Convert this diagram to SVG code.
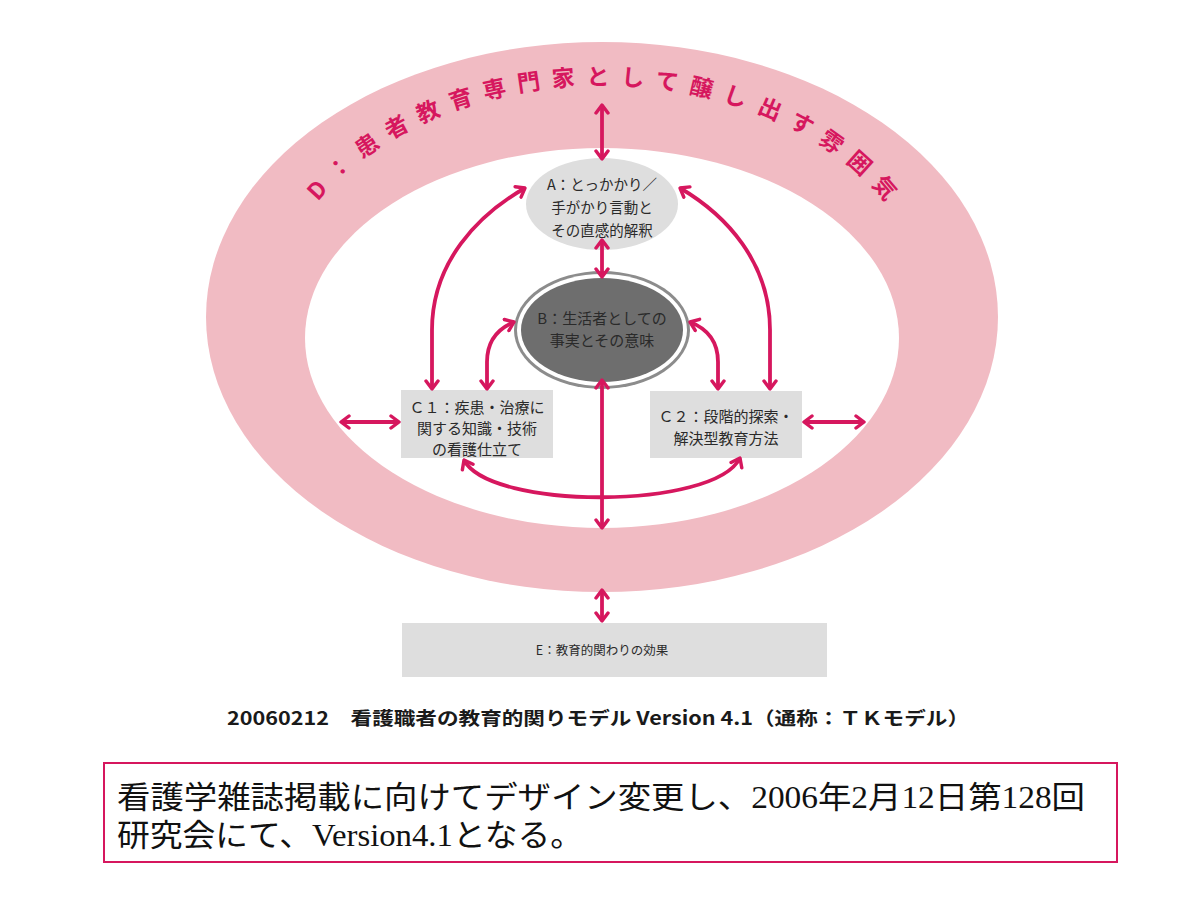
<svg xmlns="http://www.w3.org/2000/svg" width="1200" height="900" viewBox="0 0 1200 900">
<style>
.conn{fill:none;stroke:#d6175e;stroke-width:3.8;marker-start:url(#ah);marker-end:url(#ah)}
.node{fill:#dedede}
.lbl{font-family:"Noto Sans CJK JP","Noto Sans",sans-serif;fill:#2a2a2a;text-anchor:middle}
.ring{font-family:"Noto Sans CJK JP","Noto Sans",sans-serif;font-weight:bold;fill:#d6175e;font-size:23px;letter-spacing:12px}
</style>
<defs>
<marker id="ah" viewBox="0 0 12 16" refX="10" refY="8" markerWidth="12" markerHeight="16" markerUnits="userSpaceOnUse" orient="auto-start-reverse">
<path d="M2,2 L10,8 L2,14" fill="none" stroke="#d6175e" stroke-width="3.4" stroke-linecap="round" stroke-linejoin="round"/>
</marker>
<path id="arc" d="M267,317 A335,240 0 0 1 937,317"/>
</defs>
<rect width="1200" height="900" fill="#ffffff"/>

<g id="D">
<ellipse cx="602" cy="317" rx="396" ry="275" fill="#f1bbc3"/>
<ellipse cx="602" cy="338" rx="297" ry="190" fill="#ffffff"/>
<text class="ring" dy="8"><textPath href="#arc" startOffset="131">D：患者教育専門</textPath></text>
<text class="ring" dy="8"><textPath href="#arc" startOffset="404">家として醸し</textPath></text>
<text class="ring" dy="8"><textPath href="#arc" startOffset="615">出す雰囲気</textPath></text>
</g>

<g id="A">
<ellipse cx="602" cy="204" rx="76" ry="46" fill="#dedede"/>
<text class="lbl" font-size="14.5" x="602" y="190">A：とっかかり／</text>
<text class="lbl" font-size="14.5" x="602" y="213">手がかり言動と</text>
<text class="lbl" font-size="14.5" x="602" y="236">その直感的解釈</text>
</g>

<g id="B">
<ellipse cx="602" cy="330" rx="88" ry="59" fill="#8c8c8c"/>
<ellipse cx="602" cy="330" rx="85" ry="56" fill="#ffffff"/>
<ellipse cx="602" cy="330" rx="81" ry="52" fill="#6e6e6e"/>
<text class="lbl" font-size="15" x="602" y="324" fill="#1a1a1a">B：生活者としての</text>
<text class="lbl" font-size="15" x="602" y="346" fill="#1a1a1a">事実とその意味</text>
</g>

<g id="C1">
<rect class="node" x="401" y="390" width="152" height="68"/>
<text class="lbl" font-size="15" x="477" y="413">Ｃ１：疾患・治療に</text>
<text class="lbl" font-size="15" x="477" y="434">関する知識・技術</text>
<text class="lbl" font-size="15" x="477" y="455">の看護仕立て</text>
</g>

<g id="C2">
<rect class="node" x="650" y="391" width="152" height="67"/>
<text class="lbl" font-size="15" x="726" y="422">Ｃ２：段階的探索・</text>
<text class="lbl" font-size="15" x="726" y="444">解決型教育方法</text>
</g>

<g id="E">
<rect class="node" x="402" y="623" width="425" height="54"/>
<text class="lbl" font-size="12.5" x="602" y="655">E：教育的関わりの効果</text>
</g>

<g id="connectors">
<path class="conn" d="M602,105 L602,159"/>
<path class="conn" d="M602,240 L602,277"/>
<path class="conn" d="M432,389 L432,330 C432,262 478,215 525,188"/>
<path class="conn" d="M770,389 L770,330 C770,262 726,215 680,188"/>
<path class="conn" d="M487,389 L487,362 C487,342 497,329 514,322"/>
<path class="conn" d="M718,389 L718,362 C718,342 708,329 690,322"/>
<path class="conn" d="M602,380 L602,528"/>
<path class="conn" d="M464,460 C490,510 714,510 740,458"/>
<path class="conn" d="M341,422 L399,422"/>
<path class="conn" d="M804,422 L864,422"/>
<path class="conn" d="M602,590 L602,621"/>
</g>

<g id="caption">
<text x="598" y="725" font-family="'Noto Sans CJK JP','DejaVu Sans',sans-serif" font-weight="bold" font-size="18.5" fill="#1a1a1a" text-anchor="middle" textLength="742" lengthAdjust="spacingAndGlyphs">20060212　看護職者の教育的関りモデル Version 4.1（通称：ＴＫモデル）</text>
</g>

<g id="note">
<rect x="104" y="763" width="1013" height="99" fill="#ffffff" stroke="#d6175e" stroke-width="2"/>
<text x="117" y="808" font-family="'Liberation Serif','Noto Sans CJK JP',serif" font-size="31" fill="#111111" textLength="968" lengthAdjust="spacingAndGlyphs">看護学雑誌掲載に向けてデザイン変更し、2006年2月12日第128回</text>
<text x="117" y="846" font-family="'Liberation Serif','Noto Sans CJK JP',serif" font-size="31" fill="#111111" textLength="466" lengthAdjust="spacingAndGlyphs">研究会にて、Version4.1となる。</text>
</g>
</svg>
